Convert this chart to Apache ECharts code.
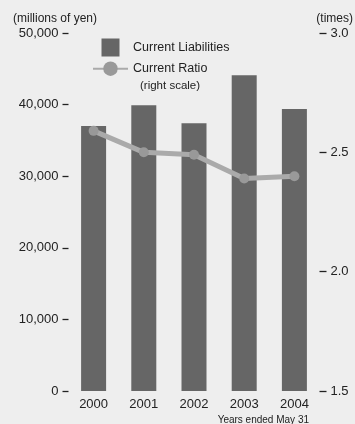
<!DOCTYPE html>
<html>
<head>
<meta charset="utf-8">
<style>
  html, body { margin: 0; padding: 0; background: #eeeeee; }
  #chart { width: 355px; height: 424px; }
</style>
<script src="https://cdn.jsdelivr.net/npm/echarts@6/dist/echarts.min.js"></script>
</head>
<body>
<div id="chart"></div>
<script>
// Fiscal years (ended May 31)
const years = ['2000', '2001', '2002', '2003', '2004'];
// Current liabilities, millions of yen
const currentLiabilities = [37000, 39900, 37400, 44100, 39400];
// Current ratio, times (right scale)
const currentRatio = [2.59, 2.50, 2.49, 2.39, 2.40];

const FONT = '"Liberation Sans", Arial, Helvetica, sans-serif';
const TEXT = '#222222';

const chart = echarts.init(document.getElementById('chart'));

chart.setOption({
  backgroundColor: '#eeeeee',
  animation: false,
  textStyle: { fontFamily: FONT, color: TEXT },
  grid: {
    left: 68.5, right: 35.5, top: 33, bottom: 33,
    containLabel: false, outerBoundsMode: 'none'
  },
  legend: {
    orient: 'vertical',
    left: 92, top: 38.5,
    padding: 0,
    itemWidth: 35, itemHeight: 18, itemGap: 5,
    textStyle: { fontFamily: FONT, fontSize: 12.5, color: TEXT },
    data: [
      { name: 'Current Liabilities', icon: 'path://M0 0H10V10H0Z' },
      { name: 'Current Ratio' }
    ]
  },
  xAxis: {
    type: 'category',
    data: years,
    axisLine: { show: false },
    axisTick: { show: false },
    axisLabel: { fontFamily: FONT, fontSize: 13, color: TEXT, margin: 7 }
  },
  yAxis: [
    {
      type: 'value',
      min: 0, max: 50000, interval: 10000,
      position: 'left',
      axisLine: { show: false },
      axisTick: { show: true, inside: false, length: 6, lineStyle: { color: TEXT, width: 1.3 } },
      splitLine: { show: false },
      axisLabel: {
        fontFamily: FONT, fontSize: 13, color: TEXT, margin: 10,
        formatter: v => v.toLocaleString('en-US')
      }
    },
    {
      type: 'value',
      min: 1.5, max: 3.0, interval: 0.5,
      position: 'right',
      axisLine: { show: false },
      axisTick: { show: true, inside: false, length: 7, lineStyle: { color: TEXT, width: 1.3 } },
      splitLine: { show: false },
      axisLabel: {
        fontFamily: FONT, fontSize: 13, color: TEXT, margin: 11,
        formatter: v => v.toFixed(1)
      }
    }
  ],
  series: [
    {
      name: 'Current Liabilities',
      type: 'bar',
      data: currentLiabilities,
      barWidth: 25,
      itemStyle: { color: '#666666' },
      z: 2
    },
    {
      name: 'Current Ratio',
      type: 'line',
      yAxisIndex: 1,
      data: currentRatio,
      symbol: 'circle',
      symbolSize: 10,
      itemStyle: { color: '#999999' },
      lineStyle: { color: '#aaaaaa', width: 5 },
      z: 3
    }
  ],
  graphic: [
    {
      type: 'text', left: 13, top: 13,
      style: { text: '(millions of yen)', font: '12px ' + FONT, fill: TEXT }
    },
    {
      type: 'text', right: 2, top: 13,
      style: { text: '(times)', font: '12px ' + FONT, fill: TEXT }
    },
    {
      type: 'text', left: 140, top: 79.5,
      style: { text: '(right scale)', font: '11.5px ' + FONT, fill: TEXT }
    },
    {
      type: 'text', right: 46, top: 415,
      style: { text: 'Years ended May 31', font: '10px ' + FONT, fill: TEXT }
    }
  ]
});
</script>
</body>
</html>
